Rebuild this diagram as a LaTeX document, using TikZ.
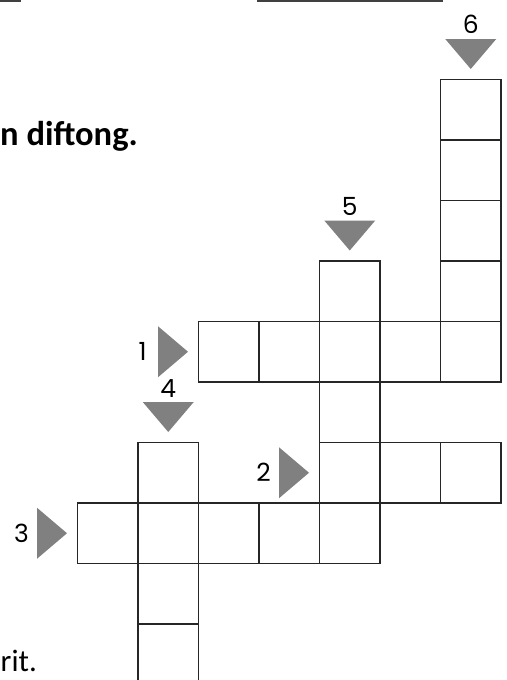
\documentclass[tikz,border=0pt]{standalone}
\usepackage{fontspec}
\setmainfont{Carlito}
\newfontfamily\digitfont{Poppins}
\begin{document}
\begin{tikzpicture}[x=1pt,y=-1pt,
  cellbox/.style={draw=black!85,line width=1.4pt},
  arrowfill/.style={fill=black!50},
  numlabel/.style={font=\digitfont\fontsize{25}{25}\selectfont,inner sep=0pt,anchor=base},
  framebox/.style={draw=black!75,line width=1.8pt}]
\useasboundingbox (0,0) rectangle (506,680);
% partial frames at the top
\draw[framebox] (0,0.9) -- (20,0.9) -- (20,-2);
\draw[framebox] (258,-2) -- (258,0.9) -- (442.5,0.9) -- (442.5,-2);
% text fragments
\node[font=\bfseries\fontsize{34.5}{34.5}\selectfont,inner sep=0pt,anchor=base west] (t1) at (0,145) {n diftong.};
\node[font=\fontsize{31}{31}\selectfont,inner sep=0pt,anchor=base west] (t2) at (0.5,671) {rit.};
% grid cells
\foreach \i/\j in {6/0,6/1,6/2,6/3,6/4, 2/4,3/4,4/4,5/4, 4/3,4/5,4/6, 5/6,6/6, 0/7,1/7,2/7,3/7,4/7, 1/6,1/8,1/9}
  \draw[cellbox] ({77.5+60.5*\i},{79.5+60.5*\j}) rectangle +(60.5,60.5);
% down arrows (column i, top row j)
\foreach \n/\i/\j in {6/6/0, 5/4/3, 4/1/6}{
  \pgfmathsetmacro\cx{77.5+60.5*(\i+0.5)}
  \pgfmathsetmacro\ty{79.5+60.5*\j}
  \fill[arrowfill] (\cx-25.5,\ty-40.5) -- (\cx+25.5,\ty-40.5) -- (\cx,\ty-10.5) -- cycle;
  \node[numlabel] (n\n) at (\cx,\ty-45.5) {\n};
}
% right arrows (row j, left column i)
\foreach \n/\i/\j in {1/2/4, 2/4/6, 3/0/7}{
  \pgfmathsetmacro\lx{77.5+60.5*\i}
  \pgfmathsetmacro\cy{79.5+60.5*(\j+0.5)}
  \fill[arrowfill] (\lx-40.5,\cy-25.5) -- (\lx-40.5,\cy+25.5) -- (\lx-10.5,\cy) -- cycle;
  \node[numlabel] (n\n) at (\lx-56,\cy+9) {\n};
}
\end{tikzpicture}
\end{document}
